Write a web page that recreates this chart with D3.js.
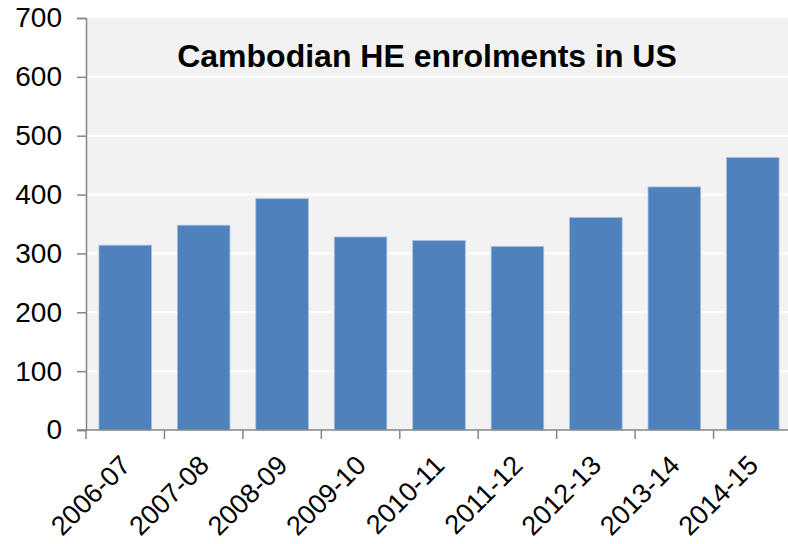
<!DOCTYPE html>
<html>
<head>
<meta charset="utf-8">
<script src="https://cdn.jsdelivr.net/npm/d3@7/dist/d3.min.js"></script>
<style>
  body { margin: 0; background: #fff; }
  svg { display: block; font-family: "Liberation Sans", Arial, sans-serif; }
</style>
</head>
<body>
<svg id="chart" width="788" height="544"></svg>
<script>
// chart data
var years = ["2006-07", "2007-08", "2008-09", "2009-10", "2010-11", "2011-12", "2012-13", "2013-14", "2014-15"];
var enrolments = [314, 348, 393, 328, 322, 312, 361, 413, 463];
var yTicks = [0, 100, 200, 300, 400, 500, 600, 700];

var FONT = "Liberation Sans, Arial, sans-serif";
var AXIS_COLOR = "#868686";

var svg = d3.select("#chart");
var margin = {left: 86, top: 18, right: -4, bottom: 114};
var width = 788 - margin.left - margin.right,
	height = 544 - margin.top - margin.bottom;

var g = svg.append("g").attr("transform", "translate(" + margin.left + "," + margin.top + ")");

var x = d3.scaleBand().domain(years).range([0, width])
	.paddingInner(0.33).paddingOuter(0.165);
var y = d3.scaleLinear().domain([0, 700]).range([height, 0]);

// plot background
g.append("rect")
	.attr("width", width).attr("height", height)
	.attr("fill", "#f2f2f2");

// gridlines
g.selectAll("line.grid").data(yTicks.slice(1, -1))
	.enter().append("line")
	.attr("class", "grid")
	.attr("x1", 0).attr("x2", width)
	.attr("y1", function(d) { return y(d); })
	.attr("y2", function(d) { return y(d); })
	.attr("stroke", "#ffffff")
	.attr("stroke-width", 2);

// bars
g.selectAll("rect.bar").data(enrolments)
	.enter().append("rect")
	.attr("class", "bar")
	.attr("x", function(d, i) { return x(years[i]); })
	.attr("y", function(d) { return y(d); })
	.attr("width", x.bandwidth())
	.attr("height", function(d) { return height - y(d); })
	.attr("fill", "#4f81bd")
	.attr("stroke", "#a7bfdf")
	.attr("stroke-width", 0.8);

// y axis
var yAxis = g.append("g")
	.attr("font-family", FONT)
	.call(d3.axisLeft(y).tickValues(yTicks).tickSize(9).tickPadding(15));
yAxis.attr("font-size", 28);
yAxis.select(".domain").attr("stroke", AXIS_COLOR).attr("stroke-width", 1.5);
yAxis.selectAll(".tick line").attr("stroke", AXIS_COLOR).attr("stroke-width", 1.5);
yAxis.selectAll(".tick text").attr("fill", "#000");

// x axis: ticks between categories
var xAxisG = g.append("g").attr("transform", "translate(0," + height + ")");
xAxisG.append("line")
	.attr("x1", -9).attr("x2", width)
	.attr("stroke", AXIS_COLOR).attr("stroke-width", 1.5);
var step = x.step();
xAxisG.selectAll("line.tick").data(years)
	.enter().append("line")
	.attr("class", "tick")
	.attr("x1", function(d) { return x(d) - x.paddingOuter() * step; })
	.attr("x2", function(d) { return x(d) - x.paddingOuter() * step; })
	.attr("y1", 0).attr("y2", 9)
	.attr("stroke", AXIS_COLOR).attr("stroke-width", 1.5);

xAxisG.selectAll("text.lbl").data(years)
	.enter().append("text")
	.attr("class", "lbl")
	.attr("transform", function(d) {
		return "translate(" + (x(d) + x.bandwidth() / 2 + 7) + ",37) rotate(-45)";
	})
	.attr("text-anchor", "end")
	.attr("font-family", FONT)
	.attr("font-size", 27)
	.attr("fill", "#000")
	.text(function(d) { return d; });

// title
svg.append("text")
	.attr("x", 427).attr("y", 67)
	.attr("text-anchor", "middle")
	.attr("font-family", FONT)
	.attr("font-size", 32)
	.attr("font-weight", "bold")
	.attr("fill", "#000")
	.text("Cambodian HE enrolments in US");
</script>
</body>
</html>
